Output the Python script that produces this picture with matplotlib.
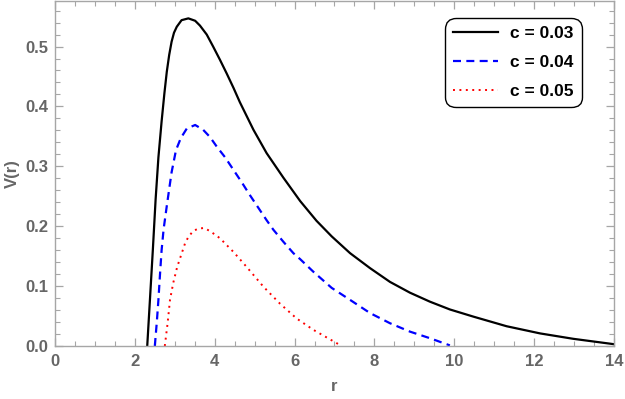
import matplotlib
matplotlib.use("Agg")
import matplotlib.pyplot as plt
from matplotlib.ticker import MultipleLocator

plt.rcParams["font.family"] = ["Liberation Sans", "DejaVu Sans"]

# values
r_c03 = [2.31, 2.38, 2.45, 2.52, 2.59, 2.67, 2.74, 2.80, 2.86, 2.92, 2.98, 3.05, 3.17, 3.34, 3.51, 3.63,
         3.80, 3.96, 4.13, 4.30, 4.47, 4.63, 4.80, 4.97, 5.30, 5.72, 6.14, 6.55, 6.93,
         7.39, 7.89, 8.39, 8.89, 9.39, 9.89, 10.48, 11.31, 12.15, 12.98, 14.0]
v_c03 = [0.0, 0.080, 0.160, 0.245, 0.315, 0.375, 0.422, 0.458, 0.486, 0.508, 0.523, 0.533, 0.544, 0.547, 0.543, 0.535,
         0.520, 0.500, 0.478, 0.455, 0.431, 0.407, 0.384, 0.361, 0.322, 0.281, 0.242, 0.209, 0.183,
         0.155, 0.130, 0.107, 0.089, 0.074, 0.061, 0.049, 0.033, 0.021, 0.012, 0.003]

r_c04 = [2.50, 2.55, 2.59, 2.63, 2.67, 2.72, 2.80, 2.92, 3.03, 3.15, 3.30, 3.51, 3.71, 3.88,
         4.05, 4.26, 4.47, 4.68, 4.88, 5.05, 5.30, 5.47, 5.72, 5.97, 6.14, 6.47, 6.93, 7.39,
         7.89, 8.39, 8.89, 9.39, 9.89]
v_c04 = [0.0, 0.040, 0.077, 0.120, 0.160, 0.195, 0.234, 0.290, 0.327, 0.347, 0.363, 0.369, 0.361, 0.349,
         0.333, 0.315, 0.294, 0.273, 0.252, 0.235, 0.210, 0.194, 0.174, 0.155, 0.145, 0.124, 0.097, 0.077,
         0.055, 0.038, 0.024, 0.013, 0.001]

r_c05 = [2.75, 2.82, 2.88, 2.96, 3.06, 3.20, 3.26, 3.34, 3.46, 3.59, 3.73, 3.88, 4.13, 4.47,
         4.80, 5.22, 5.63, 6.05, 6.47, 6.89, 7.18]
v_c05 = [0.0, 0.038, 0.077, 0.105, 0.132, 0.160, 0.172, 0.182, 0.192, 0.196, 0.197, 0.192, 0.180, 0.157,
         0.132, 0.099, 0.071, 0.046, 0.027, 0.011, 0.0]

labels = ["c = 0.03", "c = 0.04", "c = 0.05"]

gray = "#666666"
spine_gray = "#a6a6a6"

fig = plt.figure(figsize=(6.25, 3.99), dpi=100)
ax = fig.add_axes([55 / 625, 53 / 399, 559 / 625, 345 / 399])

ax.plot(r_c03, v_c03, color="black", lw=1.6, label=labels[0])
ax.plot(r_c04, v_c04, color="blue", lw=1.6, linestyle=(0, (3.6, 2.4)), label=labels[1])
ax.plot(r_c05, v_c05, color="red", lw=1.4, linestyle=(0, (1, 2.3)), label=labels[2])

ax.set_xlim(0, 14)
ax.set_ylim(0, 0.576)

ax.xaxis.set_major_locator(MultipleLocator(2))
ax.xaxis.set_minor_locator(MultipleLocator(0.5))
ax.yaxis.set_major_locator(MultipleLocator(0.1))
ax.yaxis.set_minor_locator(MultipleLocator(0.02))
ax.yaxis.set_major_formatter(plt.FuncFormatter(lambda v, p: f"{v:.1f}"))

ax.tick_params(which="both", direction="in", top=True, right=True, color=spine_gray,
               labelcolor=gray, labelsize=12)
ax.tick_params(which="major", length=6, width=0.9)
ax.tick_params(which="minor", length=3.5, width=0.8)
ax.tick_params(axis="x", pad=6)
ax.tick_params(axis="y", pad=5)
for lab in ax.get_xticklabels() + ax.get_yticklabels():
    lab.set_fontweight("bold")
for s in ax.spines.values():
    s.set_color(spine_gray)
    s.set_linewidth(1.0)

ax.set_xlabel("r", color=gray, fontsize=12, fontweight="bold", labelpad=7)
ax.set_ylabel("V(r)", color=gray, fontsize=12, fontweight="bold", labelpad=4)

leg = ax.legend(loc="upper right", bbox_to_anchor=(0.942, 0.950), borderaxespad=0,
                fancybox=True, edgecolor="black", framealpha=1,
                prop={"weight": "bold", "size": 12.5},
                handlelength=2.6, handletextpad=0.7, labelspacing=0.8,
                borderpad=0.45)
leg.get_frame().set_linewidth(1.0)
leg.get_frame().set_boxstyle("round", pad=0, rounding_size=0.6)

fig.savefig("out.png", dpi=100)
